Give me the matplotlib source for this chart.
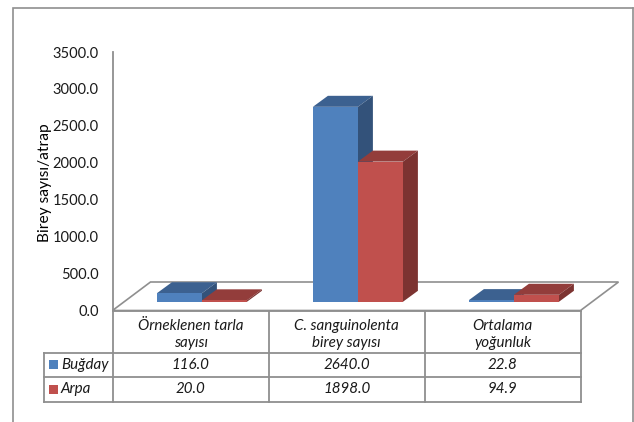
import matplotlib
matplotlib.use("Agg")
import matplotlib.pyplot as plt
from matplotlib.patches import Polygon, Rectangle

plt.rcParams['font.family'] = ['Lato', 'DejaVu Sans']

categories = ["Örneklenen tarla\nsayısı", "C. sanguinolenta\nbirey sayısı", "Ortalama\nyoğunluk"]
series_names = ["Buğday", "Arpa"]
bugday = [116.0, 2640.0, 22.8]
arpa = [20.0, 1898.0, 94.9]
y_ticks = [0, 500, 1000, 1500, 2000, 2500, 3000, 3500]
y_label = "Birey sayısı/atrap"

W, H = 634, 422
GREY = "#8f8f8f"
TEXT = "#1a1a1a"
FRONT = ["#4f81bd", "#c0504d"]
TOP = ["#3c6190", "#933d3b"]
SIDE = ["#33527a", "#7c3331"]

fig = plt.figure(figsize=(W / 100, H / 100), dpi=100, facecolor="white")

# Outer chart frame, in pixel-like figure coordinates
bg = fig.add_axes([0, 0, 1, 1], zorder=0)
bg.set_xlim(0, W)
bg.set_ylim(H, 0)
bg.axis("off")
bg.plot([12.5, 12.5, 633], [H, 8, 8], color=GREY, lw=1.2, solid_joinstyle="miter")
bg.plot([633, 633], [8, H], color=GREY, lw=1.2)

# Value axis spanning 0-3500 over three category slots
left, right, top, bottom = 112.5, 580.5, 52.0, 310.5
ax = fig.add_axes([left / W, 1 - bottom / H, (right - left) / W, (bottom - top) / H], zorder=1)
ax.set_xlim(0, 3)
ax.set_ylim(0, 3500)
ax.patch.set_alpha(0)
for name in ["top", "right", "bottom"]:
    ax.spines[name].set_visible(False)
ax.spines["left"].set_color(GREY)
ax.spines["left"].set_linewidth(1.3)
ax.set_xticks([])
ax.set_yticks(y_ticks)
ax.set_yticklabels([f"{v:.1f}" for v in y_ticks], fontsize=10.5, color=TEXT)
ax.tick_params(axis="y", length=0, pad=10)
ax.set_ylabel(y_label, fontsize=11.2, color="black")
ax.yaxis.set_label_coords(-0.130, 0.495)

# Sizes of the oblique projection, expressed in axis units
ux = 3 / (right - left)
uy = 3500 / (bottom - top)
floor_dx, floor_dy = 38 * ux, 28.5 * uy
depth_dx, depth_dy = 15 * ux, 11 * uy
lift = 8.7 * uy
shift = 11.4 * ux
bar_w = 45 * ux

ax.add_patch(Polygon([(0, 0), (3, 0), (3 + floor_dx, floor_dy), (floor_dx, floor_dy)],
                     closed=True, fc="white", ec=GREY, lw=1.2, clip_on=False, zorder=1))


def draw_bar(x0, value, k, z):
    """One oblique bar: front rectangle plus top and side faces."""
    x1 = x0 + bar_w
    y0 = lift
    y1 = lift + value
    ax.add_patch(Polygon([(x0, y1), (x1, y1), (x1 + depth_dx, y1 + depth_dy), (x0 + depth_dx, y1 + depth_dy)],
                         closed=True, fc=TOP[k], ec="none", clip_on=False, zorder=z))
    ax.add_patch(Polygon([(x1, y0), (x1 + depth_dx, y0 + depth_dy), (x1 + depth_dx, y1 + depth_dy), (x1, y1)],
                         closed=True, fc=SIDE[k], ec="none", clip_on=False, zorder=z))
    ax.bar(x0, value, width=bar_w, bottom=y0, align="edge", color=FRONT[k], clip_on=False, zorder=z + 0.1)


for i, (a, b) in enumerate(zip(bugday, arpa)):
    center = i + 0.5 + shift
    draw_bar(center - bar_w, a, 0, 2 + i)
    draw_bar(center, b, 1, 2.5 + i)

# Data table under the plot
xs = [112.7, 268.5, 425, 580.5]
legend_x = 43.5
y_head, y_row1, y_row2, y_end = 310.5, 352.5, 377, 401.5
tbl = dict(color=GREY, lw=1.3, solid_capstyle="projecting")
bg.plot([left, 580.5], [y_head, y_head], **tbl)
for y in (y_row1, y_row2, y_end):
    bg.plot([legend_x, 580.5], [y, y], **tbl)
for x in xs:
    bg.plot([x, x], [y_head, y_end], **tbl)
bg.plot([legend_x, legend_x], [y_row1, y_end], **tbl)

cell = dict(ha="center", va="center", fontsize=10.9, style="italic", color=TEXT)
for i, label in enumerate(categories):
    mid = (xs[i] + xs[i + 1]) / 2
    bg.text(mid, (y_head + y_row1) / 2 + 3, label, linespacing=1.3, **cell)
    bg.text(mid, (y_row1 + y_row2) / 2, f"{bugday[i]:.1f}", **cell)
    bg.text(mid, (y_row2 + y_end) / 2, f"{arpa[i]:.1f}", **cell)

for k, (name, ya, yb) in enumerate(zip(series_names, (y_row1, y_row2), (y_row2, y_end))):
    mid = (ya + yb) / 2
    bg.add_patch(Rectangle((48.5, mid - 4.5), 9, 9, fc=FRONT[k], ec="none"))
    bg.text(61, mid, name, ha="left", va="center", fontsize=10.9, style="italic", color=TEXT)

fig.savefig("out.png", dpi=100)
